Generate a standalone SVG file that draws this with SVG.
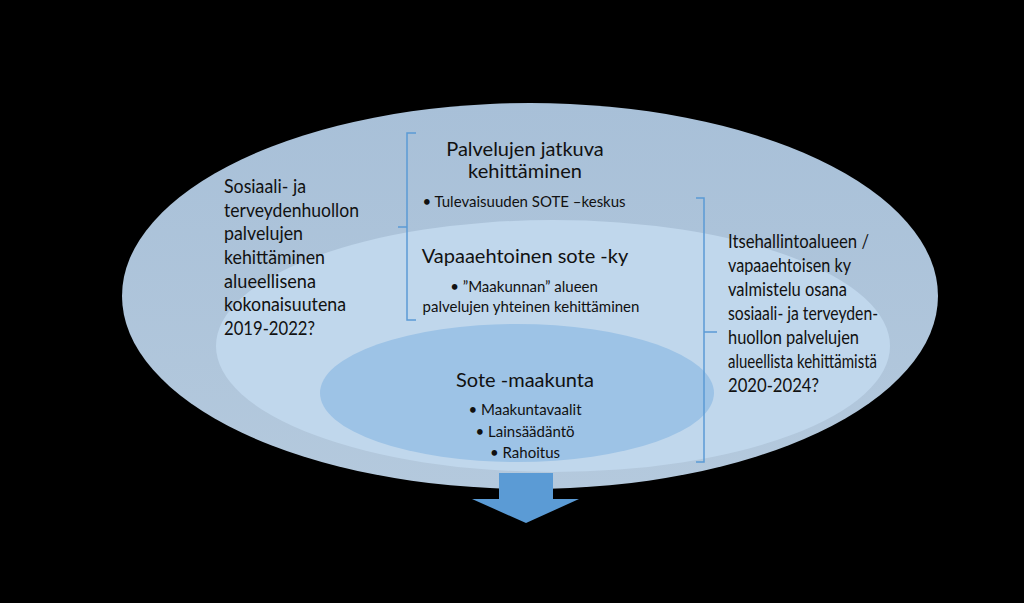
<svg xmlns="http://www.w3.org/2000/svg" width="1024" height="603" viewBox="0 0 1024 603">
<defs>
<linearGradient id="gOuter" x1="0" y1="0" x2="0" y2="1">
<stop offset="0" stop-color="#a8c0d8"/>
<stop offset="1" stop-color="#b4c9dd"/>
</linearGradient>
<style>
.t{font-family:Lato,"Liberation Sans",sans-serif;fill:#111;}
.big{font-size:20px;}
.side{font-size:18.5px;}
.sm{font-size:15px;}
.br{fill:none;stroke:#5b9bd5;stroke-width:1.5;}
</style>
</defs>
<rect width="1024" height="603" fill="#000"/>
<g id="outer">
<ellipse cx="530" cy="296" rx="408" ry="193" fill="url(#gOuter)"/>
</g>
<g id="middle">
<ellipse cx="553" cy="346" rx="337" ry="126" fill="#c0d7ec"/>
</g>
<g id="inner">
<ellipse cx="517" cy="393" rx="197" ry="69" fill="#9dc3e6"/>
</g>
<g id="arrow">
<polygon points="499,473 553,473 553,499 579,499 526,523 472,499 499,499" fill="#5b9bd5"/>
</g>
<g id="connectors">
<path class="br" d="M416,133 H407 V320 H416 M407,227 H398"/>
<path class="br" d="M696,198 H704 V462 H696 M704,332 H717"/>
</g>
<g id="left-text">
<text class="t side" lengthAdjust="spacingAndGlyphs">
<tspan x="224" y="193" textLength="82" lengthAdjust="spacingAndGlyphs">Sosiaali- ja</tspan>
</text>
<text class="t side" x="224" y="217" textLength="135" lengthAdjust="spacingAndGlyphs">terveydenhuollon</text>
<text class="t side" x="224" y="240" textLength="79" lengthAdjust="spacingAndGlyphs">palvelujen</text>
<text class="t side" x="224" y="264" textLength="101" lengthAdjust="spacingAndGlyphs">kehittäminen</text>
<text class="t side" x="224" y="288" textLength="92" lengthAdjust="spacingAndGlyphs">alueellisena</text>
<text class="t side" x="224" y="311" textLength="122" lengthAdjust="spacingAndGlyphs">kokonaisuutena</text>
<text class="t side" x="224" y="335" textLength="91" lengthAdjust="spacingAndGlyphs">2019-2022?</text>
</g>
<g id="top-node">
<text class="t big" text-anchor="middle"><tspan x="525" y="156">Palvelujen jatkuva</tspan><tspan x="525" y="178">kehittäminen</tspan></text>
<text class="t sm" x="524" y="207" text-anchor="middle">• Tulevaisuuden SOTE –keskus</text>
</g>
<g id="mid-node">
<text class="t big" x="525" y="263" text-anchor="middle">Vapaaehtoinen sote -ky</text>
<text class="t sm" text-anchor="middle"><tspan x="524" y="292">• ”Maakunnan” alueen</tspan><tspan x="531" y="312">palvelujen yhteinen kehittäminen</tspan></text>
</g>
<g id="inner-node">
<text class="t big" x="525" y="387" text-anchor="middle">Sote -maakunta</text>
<text class="t sm" text-anchor="middle"><tspan x="525" y="415">• Maakuntavaalit</tspan><tspan x="525" y="437">• Lainsäädäntö</tspan><tspan x="525" y="458">• Rahoitus</tspan></text>
</g>
<g id="right-text">
<text class="t side" x="728" y="248" textLength="141" lengthAdjust="spacingAndGlyphs">Itsehallintoalueen /</text>
<text class="t side" x="728" y="272" textLength="123" lengthAdjust="spacingAndGlyphs">vapaaehtoisen ky</text>
<text class="t side" x="728" y="296" textLength="119" lengthAdjust="spacingAndGlyphs">valmistelu osana</text>
<text class="t side" x="728" y="320" textLength="150" lengthAdjust="spacingAndGlyphs">sosiaali- ja terveyden-</text>
<text class="t side" x="728" y="344" textLength="131" lengthAdjust="spacingAndGlyphs">huollon palvelujen</text>
<text class="t side" x="728" y="368" textLength="149" lengthAdjust="spacingAndGlyphs">alueellista kehittämistä</text>
<text class="t side" x="728" y="392" textLength="91" lengthAdjust="spacingAndGlyphs">2020-2024?</text>
</g>
</svg>
